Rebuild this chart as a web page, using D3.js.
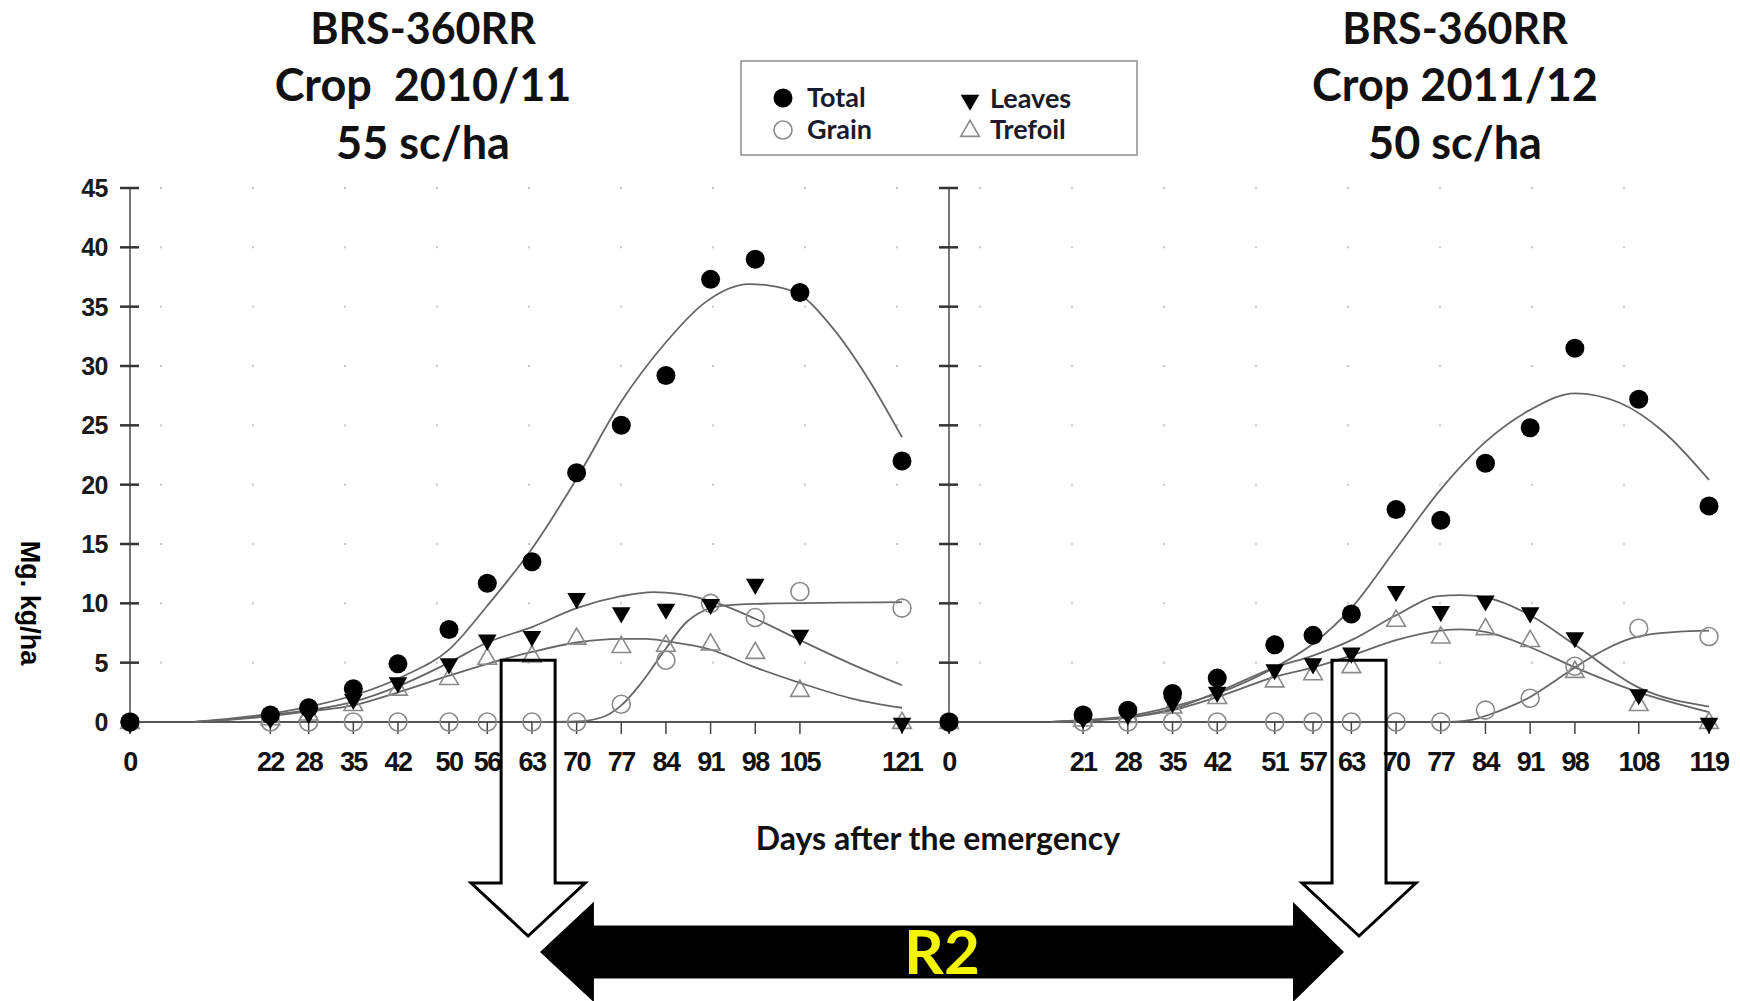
<!DOCTYPE html>
<html>
<head>
<meta charset="utf-8">
<script src="https://cdn.jsdelivr.net/npm/d3@7/dist/d3.min.js"></script>
<style>
  body { margin: 0; background: #fff; }
  svg { display: block; }
</style>
</head>
<body>
<svg id="chart" width="1740" height="1001"></svg>
<script>
// ---- data (Mg kg/ha vs days after emergence) ----
const daysLeft  = [0, 22, 28, 35, 42, 50, 56, 63, 70, 77, 84, 91, 98, 105, 121];
const totalLeft   = [0, 0.6, 1.2, 2.8, 4.9, 7.8, 11.7, 13.5, 21.0, 25.0, 29.2, 37.3, 39.0, 36.2, 22.0];
const leavesLeft  = [0, 0.4, 0.8, 2.0, 3.4, 5.0, 7.0, 7.3, 10.5, 9.3, 9.6, 10.0, 11.7, 7.4, 0];
const grainLeft   = [0, 0, 0, 0, 0, 0, 0, 0, 0, 1.5, 5.2, 10.0, 8.8, 11.0, 9.6];
const trefoilLeft = [0, 0.3, 0.7, 1.5, 2.8, 3.7, 5.4, 5.6, 7.1, 6.4, 6.5, 6.6, 5.9, 2.7, 0];

const daysRight = [0, 21, 28, 35, 42, 51, 57, 63, 70, 77, 84, 91, 98, 108, 119];
const totalRight   = [0, 0.6, 1.0, 2.4, 3.7, 6.5, 7.3, 9.1, 17.9, 17.0, 21.8, 24.8, 31.5, 27.2, 18.2];
const leavesRight  = [0, 0.4, 0.7, 1.7, 2.6, 4.5, 5.0, 5.9, 11.1, 9.4, 10.3, 9.3, 7.2, 2.4, 0];
const grainRight   = [0, 0, 0, 0, 0, 0, 0, 0, 0, 0, 1.0, 2.0, 4.7, 7.9, 7.2];
const trefoilRight = [0, 0.2, 0.5, 1.3, 2.1, 3.5, 4.1, 4.7, 8.6, 7.2, 7.9, 6.9, 4.3, 1.5, 0];

// fitted curves, [day, value]
const totalFitLeft = [[10,0],[16,0.3],[22,0.7],[29,1.4],[36,2.4],[43,3.9],[50,6.1],[56,9.8],[63,14.6],[70,20.5],
  [77,27.0],[84,32.0],[90,35.3],[97,36.9],[100,36.8],[105,36.0],[110,33.3],[115.5,29.1],[121,24.0]];
const leavesFitLeft = [[10,0],[16,0.25],[22,0.6],[28,1.0],[35,1.7],[42,3.0],[50,5.0],[56,6.7],[63,8.0],[70,9.6],
  [77,10.6],[82,10.95],[86,10.8],[91,10.2],[98,8.7],[105,6.9],[113,4.9],[121,3.1]];
const trefoilFitLeft = [[10,0],[16,0.2],[22,0.5],[28,0.9],[35,1.4],[42,2.5],[50,3.9],[56,4.9],[63,5.9],[70,6.7],
  [77,7.0],[81,7.0],[84,6.8],[91,6.1],[98,4.6],[105,3.3],[113,2.0],[121,1.2]];
const grainFitLeft = [[63,0],[70,0.05],[74,0.4],[77,1.4],[80,3.2],[84,6.2],[87,8.3],[90,9.4],[93,9.8],[98,9.95],[121,10.1]];

const totalFitRight = [[16,0],[21,0.15],[28,0.5],[35,1.3],[42,2.4],[51,4.6],[57,6.6],[63,9.6],[70,14.6],[77,19.6],
  [84,23.6],[91,26.3],[98,27.7],[105,26.9],[112,24.4],[119,20.4]];
const leavesFitRight = [[16,0],[21,0.15],[28,0.4],[35,1.1],[42,2.5],[51,4.6],[57,5.6],[63,6.9],[70,9.0],[76.6,10.6],
  [80,10.7],[84,10.5],[91,9.0],[98,6.5],[108,2.9],[119,1.3]];
const trefoilFitRight = [[16,0],[21,0.1],[28,0.36],[35,1.0],[42,2.1],[51,3.8],[57,4.6],[63,5.6],[70,6.9],[77,7.7],
  [80,7.8],[84,7.6],[91,6.3],[98,4.6],[108,2.5],[119,0.84]];
const grainFitRight = [[78,0],[82,0.2],[86,0.9],[91,2.1],[95,3.5],[98,4.6],[102,5.9],[106,6.9],[110,7.4],[114,7.6],[119,7.7]];

const yTicks = [0, 5, 10, 15, 20, 25, 30, 35, 40, 45];
const legendItems = ["Total", "Grain", "Leaves", "Trefoil"];

const svg = d3.select("#chart");
svg.append("rect").attr("width", 1740).attr("height", 1001).attr("fill", "#fff");

const y  = d3.scaleLinear().domain([0, 45]).range([722, 188]);
const xL = d3.scaleLinear().domain([0, 121]).range([130, 902]);
const xR = d3.scaleLinear().domain([0, 119]).range([949, 1709]);

const tickFont = "'Liberation Sans', Arial, sans-serif";
const titleFont = "Lato, 'Open Sans', sans-serif";

const tri = d3.symbol().type(d3.symbolTriangle).size(150);

function marker(g, type, cx, cy) {
  if (type === "Total") {
    g.append("circle").attr("cx", cx).attr("cy", cy).attr("r", 9.5).attr("fill", "#000");
  } else if (type === "Grain") {
    g.append("circle").attr("cx", cx).attr("cy", cy).attr("r", 9)
      .attr("fill", "none").attr("stroke", "#8a8a8a").attr("stroke-width", 1.6);
  } else if (type === "Leaves") {
    g.append("path").attr("d", tri()).attr("transform", `translate(${cx},${cy + 1}) rotate(180)`)
      .attr("fill", "#000");
  } else {
    g.append("path").attr("d", tri()).attr("transform", `translate(${cx},${cy + 1})`)
      .attr("fill", "none").attr("stroke", "#8a8a8a").attr("stroke-width", 1.6);
  }
}

const line = x => d3.line().x(d => x(d[0])).y(d => y(d[1])).curve(d3.curveMonotoneX);

function drawPanel(x, days, series, fits, maxDay, showLabels) {
  const g = svg.append("g");

  // faint dotted grid rows
  g.selectAll(".grid").data(yTicks.slice(1)).enter().append("line")
    .attr("x1", x(0) + 30).attr("x2", x(maxDay) + 4)
    .attr("y1", d => y(d)).attr("y2", d => y(d))
    .attr("stroke", "#c8c8c8").attr("stroke-width", 2)
    .attr("stroke-dasharray", "2,90");

  // y axis
  g.append("line").attr("x1", x(0)).attr("x2", x(0)).attr("y1", y(45)).attr("y2", y(0))
    .attr("stroke", "#777").attr("stroke-width", 2);
  g.selectAll(".ytick").data(yTicks).enter().append("line")
    .attr("x1", x(0) - 10).attr("x2", x(0) + 9)
    .attr("y1", d => y(d)).attr("y2", d => y(d))
    .attr("stroke", "#333").attr("stroke-width", 2.5);
  if (showLabels) {
    g.selectAll(".ylab").data(yTicks).enter().append("text")
      .attr("x", x(0) - 22).attr("y", d => y(d)).attr("dy", "0.36em")
      .attr("text-anchor", "end")
      .style("font-family", tickFont).style("font-weight", "bold").style("font-size", "25px")
      .style("letter-spacing", "-0.5px")
      .attr("fill", "#1a1a1a")
      .text(d => d);
  }

  // x ticks and labels
  g.selectAll(".xtick").data(days).enter().append("line")
    .attr("x1", d => x(d)).attr("x2", d => x(d))
    .attr("y1", y(0)).attr("y2", y(0) + 12)
    .attr("stroke", "#444").attr("stroke-width", 1.5);
  g.selectAll(".xlab").data(days).enter().append("text")
    .attr("x", d => x(d)).attr("y", 771)
    .attr("text-anchor", "middle")
    .style("font-family", tickFont).style("font-weight", "bold").style("font-size", "27px")
    .style("letter-spacing", "-1.6px")
    .attr("fill", "#111")
    .text(d => d);

  // fitted curves
  fits.forEach(f => {
    g.append("path").attr("d", line(x)(f))
      .attr("fill", "none").attr("stroke", "#666").attr("stroke-width", 1.8);
  });

  // markers
  series.forEach(s => {
    s.values.forEach((v, i) => marker(g, s.name, x(days[i]), y(v)));
  });
}

// continuous baseline across both panels
svg.append("line").attr("x1", xL(0)).attr("x2", xR(119) + 6).attr("y1", y(0)).attr("y2", y(0))
  .attr("stroke", "#555").attr("stroke-width", 2);

drawPanel(xL, daysLeft,
  [{name: "Grain", values: grainLeft}, {name: "Trefoil", values: trefoilLeft},
   {name: "Leaves", values: leavesLeft}, {name: "Total", values: totalLeft}],
  [totalFitLeft, leavesFitLeft, trefoilFitLeft, grainFitLeft], 121, true);
drawPanel(xR, daysRight,
  [{name: "Grain", values: grainRight}, {name: "Trefoil", values: trefoilRight},
   {name: "Leaves", values: leavesRight}, {name: "Total", values: totalRight}],
  [totalFitRight, leavesFitRight, trefoilFitRight, grainFitRight], 119, false);

// y axis title
svg.append("text").attr("transform", "translate(21,603) rotate(90)")
  .attr("text-anchor", "middle")
  .style("font-family", tickFont).style("font-weight", "bold").style("font-size", "27px")
  .text("Mg. kg/ha");

// titles
function titleBlock(cx, crop, gap, yieldTxt) {
  const t = svg.append("g").style("font-family", titleFont).style("font-weight", "bold")
    .attr("fill", "#111").attr("text-anchor", "middle");
  t.append("text").attr("x", cx).attr("y", 44).style("font-size", "43px").text("BRS-360RR");
  t.append("text").attr("x", cx).attr("y", 101).style("font-size", "45px").attr("xml:space", "preserve")
    .text("Crop" + gap + crop);
  t.append("text").attr("x", cx).attr("y", 159).style("font-size", "45px").text(yieldTxt);
}
titleBlock(423, "2010/11", "  ", "55 sc/ha");
titleBlock(1455, "2011/12", " ", "50 sc/ha");

// legend
const lg = svg.append("g");
lg.append("rect").attr("x", 741).attr("y", 61).attr("width", 396).attr("height", 94)
  .attr("fill", "#fff").attr("stroke", "#8c8c8c").attr("stroke-width", 1.5);
const legendPos = [[783, 98], [783, 130], [970, 99], [970, 130]];
legendItems.forEach((name, i) => {
  const [lx, ly] = legendPos[i];
  marker(lg, name, lx, ly);
  lg.append("text").attr("x", lx + (i < 2 ? 24 : 20)).attr("y", ly + 9)
    .style("font-family", titleFont).style("font-weight", "bold").style("font-size", "27px")
    .attr("fill", "#1b1b2e").text(name);
});

// x axis title
svg.append("text").attr("x", 938).attr("y", 850).attr("text-anchor", "middle")
  .style("font-family", titleFont).style("font-weight", "bold").style("font-size", "32px")
  .attr("fill", "#111").text("Days after the emergency");

// R2 block arrows
function downArrow(cx, top) {
  const pts = [[cx - 27, top], [cx + 27, top], [cx + 27, 883], [cx + 57, 883], [cx, 936],
               [cx - 57, 883], [cx - 27, 883]];
  svg.append("path").attr("d", d3.line()(pts) + "Z")
    .attr("fill", "none").attr("stroke", "#000").attr("stroke-width", 3).attr("stroke-linejoin", "miter");
}
downArrow(xL(62.4), y(5.2));
downArrow(xR(64.2), y(5.2));

const a0 = xL(63.7), a1 = xR(62.4), ay = 952;
const dbl = [[a0, ay], [a0 + 60, ay - 56], [a0 + 60, ay - 29], [a1 - 57, ay - 29], [a1 - 57, ay - 56], [a1, ay],
             [a1 - 57, ay + 56], [a1 - 57, ay + 29], [a0 + 60, ay + 29], [a0 + 60, ay + 56]];
svg.append("path").attr("d", d3.line()(dbl) + "Z")
  .attr("fill", "#000").attr("stroke", "#fff").attr("stroke-width", 5).attr("stroke-linejoin", "miter");
svg.append("text").attr("x", 942).attr("y", 974).attr("text-anchor", "middle")
  .style("font-family", titleFont).style("font-weight", "bold").style("font-size", "62px")
  .attr("fill", "#f4f400").text("R2");
</script>
</body>
</html>
